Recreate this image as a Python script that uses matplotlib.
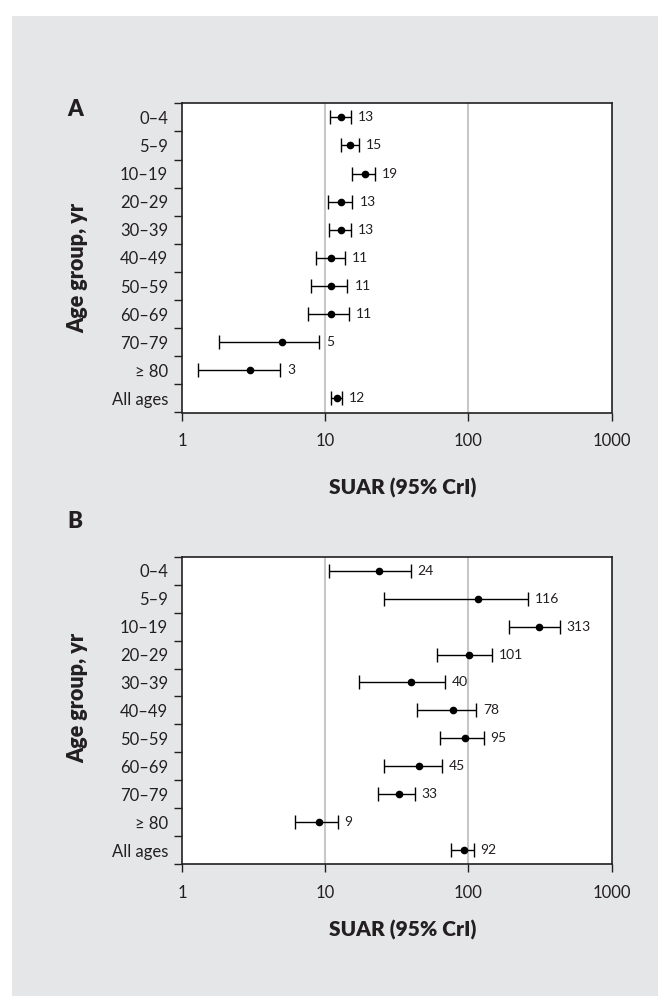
import numpy as np
import matplotlib
matplotlib.use('Agg')
import matplotlib.pyplot as plt
from matplotlib.patches import Rectangle
from matplotlib.ticker import FixedLocator, NullFormatter, FixedFormatter

plt.rcParams['font.family'] = ['Lato', 'DejaVu Sans']

groups = ['0–4', '5–9', '10–19', '20–29', '30–39', '40–49',
          '50–59', '60–69', '70–79', '≥ 80', 'All ages']

# panel A
a_est = [12.9, 15.0, 18.9, 12.9, 12.9, 10.9, 10.9, 10.9, 5.0, 3.0, 12.0]
a_lo = [10.8, 12.8, 15.5, 10.5, 10.7, 8.6, 8.0, 7.6, 1.8, 1.3, 10.9]
a_hi = [15.1, 17.2, 22.3, 15.5, 15.1, 13.7, 14.3, 14.7, 9.1, 4.87, 13.1]
a_lab = ['13', '15', '19', '13', '13', '11', '11', '11', '5', '3', '12']

# panel B
b_est = [23.8, 116, 312, 101, 39.8, 77.9, 94.8, 45, 32.7, 9.0, 92.5]
b_lo = [10.7, 25.6, 192, 60.7, 17.3, 44, 63.2, 25.6, 23.5, 6.18, 75.2]
b_hi = [39.5, 262, 435, 146, 69, 113, 128, 65.2, 42.2, 12.2, 109]
b_lab = ['24', '116', '313', '101', '40', '78', '95', '45', '33', '9', '92']

xticks = [1, 10, 100, 1000]
dark = '#231f20'

W, H = 658, 996
fig = plt.figure(figsize=(W / 100, H / 100), dpi=100)
fig.patch.set_facecolor('white')
bg = Rectangle((12 / W, 0), 1 - 12 / W, 1 - 16 / H, transform=fig.transFigure,
               facecolor='#e5e6e8', edgecolor='none', zorder=-10)
fig.add_artist(bg)


def panel(rect, est, lo, hi, lab):
    ax = fig.add_axes(rect)
    ax.set_facecolor('white')
    y = np.arange(len(groups))
    est = np.array(est)
    err = [est - np.array(lo), np.array(hi) - est]
    ax.errorbar(est, y, xerr=err, fmt='o', color='black', ms=4.5,
                elinewidth=1.0, capsize=5, capthick=1.0, zorder=3)
    for yi, h, t in zip(y, hi, lab):
        ax.annotate(t, (h, yi), xytext=(5, 0), textcoords='offset points',
                    ha='left', va='center', fontsize=10, color=dark)
    ax.set_xscale('log')
    ax.set_xlim(1, 1000)
    ax.set_ylim(len(groups) - 0.5, -0.5)
    ax.xaxis.set_major_locator(FixedLocator(xticks))
    ax.xaxis.set_minor_locator(FixedLocator([]))
    ax.set_xticklabels([str(v) for v in xticks])
    ax.yaxis.set_major_locator(FixedLocator(np.arange(-0.5, len(groups), 1.0)))
    ax.yaxis.set_major_formatter(NullFormatter())
    ax.yaxis.set_minor_locator(FixedLocator(y))
    ax.yaxis.set_minor_formatter(FixedFormatter(groups))
    ax.tick_params(axis='y', which='major', length=6, width=1.0, color=dark)
    ax.tick_params(axis='y', which='minor', length=0, pad=10, labelsize=12,
                   labelcolor=dark)
    ax.tick_params(axis='x', which='major', length=6, width=1.0, color=dark,
                   pad=9, labelsize=12, labelcolor=dark)
    for v in [10, 100]:
        ax.axvline(v, color='#c8c8c8', lw=1.5, zorder=1)
    for s in ax.spines.values():
        s.set_color(dark)
        s.set_linewidth(1.2)
    return ax


panel([182 / W, 1 - 412.5 / H, 429.6 / W, 309.2 / H], a_est, a_lo, a_hi, a_lab)
panel([182 / W, 1 - 864.2 / H, 429.6 / W, 307.5 / H], b_est, b_lo, b_hi, b_lab)

fig.text(75 / W, 1 - 110 / H, 'A', fontsize=16, fontweight='heavy', color=dark,
         ha='center', va='center')
fig.text(75 / W, 1 - 522 / H, 'B', fontsize=16, fontweight='heavy', color=dark,
         ha='center', va='center')
fig.text(78 / W, 1 - 268 / H, 'Age group, yr', rotation=90, fontsize=15.5,
         fontweight='heavy', color=dark, ha='center', va='center')
fig.text(78 / W, 1 - 698 / H, 'Age group, yr', rotation=90, fontsize=15.5,
         fontweight='heavy', color=dark, ha='center', va='center')
fig.text(403 / W, 1 - 488 / H, 'SUAR (95% CrI)', fontsize=15,
         fontweight='heavy', color=dark, ha='center', va='center')
fig.text(403 / W, 1 - 930 / H, 'SUAR (95% CrI)', fontsize=15,
         fontweight='heavy', color=dark, ha='center', va='center')

fig.savefig('out.png', dpi=100)
